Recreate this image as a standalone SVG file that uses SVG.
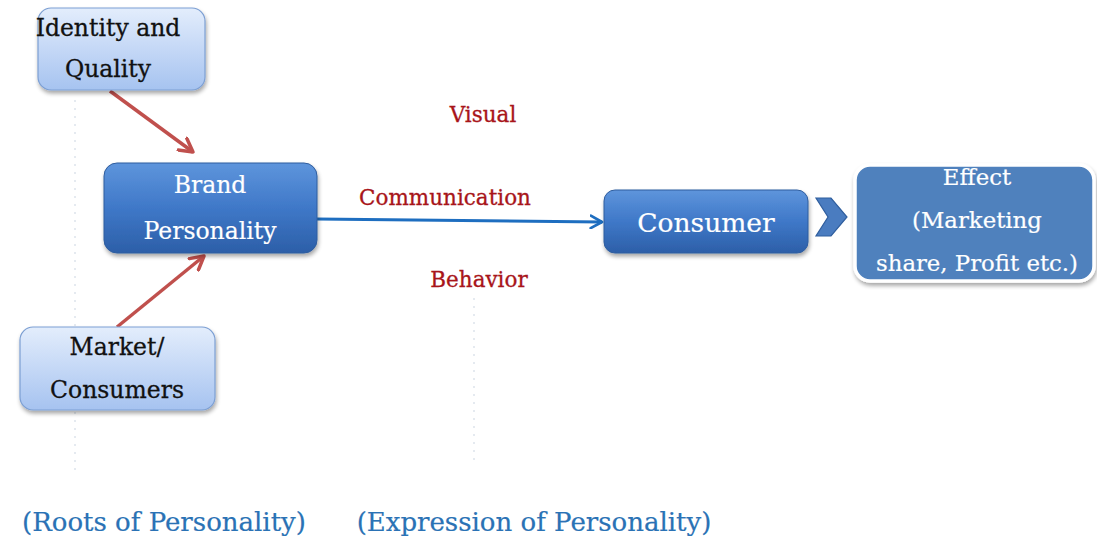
<svg xmlns="http://www.w3.org/2000/svg" width="1097" height="542" viewBox="0 0 1097 542">
  <style>
    text { font-family: "DejaVu Serif", "Liberation Serif", serif; text-anchor: middle; }
    .dark { fill: #111111; stroke: #111111; stroke-width: 0.3; font-size: 23.5px; }
    .light { fill: #ffffff; stroke: #ffffff; stroke-width: 0.2; font-size: 23.5px; }
    .label { fill: #a8151a; stroke: #a8151a; stroke-width: 0.3; font-size: 21.5px; }
    .caption { fill: #2a72b5; stroke: #2a72b5; stroke-width: 0.2; font-size: 26px; }
    .guide { stroke: #d4dde6; stroke-width: 1.2; stroke-dasharray: 2 6; }
  </style>
  <defs>
    <linearGradient id="paleBlue" x1="0" y1="0" x2="0" y2="1">
      <stop offset="0" stop-color="#e3edfc"/>
      <stop offset="1" stop-color="#a6c3f0"/>
    </linearGradient>
    <linearGradient id="deepBlue" x1="0" y1="0" x2="0" y2="1">
      <stop offset="0" stop-color="#5e95dc"/>
      <stop offset="0.5" stop-color="#3f78c8"/>
      <stop offset="1" stop-color="#2c5fa8"/>
    </linearGradient>
    <filter id="shadow" x="-10%" y="-10%" width="125%" height="135%">
      <feGaussianBlur in="SourceAlpha" stdDeviation="2"/>
      <feOffset dx="1" dy="3"/>
      <feComponentTransfer><feFuncA type="linear" slope="0.35"/></feComponentTransfer>
      <feMerge><feMergeNode/><feMergeNode in="SourceGraphic"/></feMerge>
    </filter>
    <marker id="redHead" viewBox="0 0 12 12" refX="10" refY="6" markerWidth="5" markerHeight="5" orient="auto" markerUnits="strokeWidth">
      <path d="M1,1 L10,6 L1,11" fill="none" stroke="#c0504d" stroke-width="2.4" stroke-linecap="round" stroke-linejoin="round"/>
    </marker>
    <marker id="blueHead" viewBox="0 0 12 12" refX="10" refY="6" markerWidth="5" markerHeight="5" orient="auto" markerUnits="strokeWidth">
      <path d="M1,1 L10,6 L1,11" fill="none" stroke="#1e6ec0" stroke-width="2.2" stroke-linecap="round" stroke-linejoin="round"/>
    </marker>
  </defs>

  <rect width="1097" height="542" fill="#ffffff"/>

  <!-- faint column guides -->
  <line class="guide" x1="75" y1="100" x2="75" y2="470"/>
  <line class="guide" x1="474" y1="298" x2="474" y2="463"/>

  <g id="connectors">
    <line x1="110" y1="91" x2="193" y2="152" stroke="#c0504d" stroke-width="3.5" marker-end="url(#redHead)"/>
    <line x1="117" y1="327" x2="204" y2="256" stroke="#c0504d" stroke-width="3.5" marker-end="url(#redHead)"/>
    <line x1="317" y1="219" x2="602" y2="222" stroke="#1e6ec0" stroke-width="3" marker-end="url(#blueHead)"/>
    <g id="chevron">
      <path d="M816,198 L831,198 L847,217 L831,236 L816,236 L828,217 Z" fill="#4a7cc0" stroke="#2f5e9e" stroke-width="1.2"/>
    </g>
  </g>

  <g id="node-identity">
    <rect x="38" y="8" width="167" height="82" rx="13" fill="url(#paleBlue)" stroke="#7c9fd3" stroke-width="1.2" filter="url(#shadow)"/>
    <text class="dark" x="108" y="36">Identity and</text>
    <text class="dark" x="108" y="77">Quality</text>
  </g>

  <g id="node-brand">
    <rect x="104" y="163" width="213" height="90" rx="13" fill="url(#deepBlue)" stroke="#2f5d9e" stroke-width="1" filter="url(#shadow)"/>
    <text class="light" x="210" y="193">Brand</text>
    <text class="light" x="210" y="239">Personality</text>
  </g>

  <g id="node-market">
    <rect x="20" y="327" width="195" height="83" rx="13" fill="url(#paleBlue)" stroke="#7c9fd3" stroke-width="1.2" filter="url(#shadow)"/>
    <text class="dark" x="117" y="355">Market/</text>
    <text class="dark" x="117" y="398">Consumers</text>
  </g>

  <g id="node-consumer">
    <rect x="604" y="190" width="204" height="63" rx="11" fill="url(#deepBlue)" stroke="#2f5d9e" stroke-width="1" filter="url(#shadow)"/>
    <text class="light" x="706" y="232" style="font-size:26.5px">Consumer</text>
  </g>

  <g id="node-effect">
    <rect x="855" y="165" width="239" height="116" rx="15" fill="#4f81bd" stroke="#ffffff" stroke-width="3.5" filter="url(#shadow)"/>
    <text class="light" x="977" y="185" style="font-size:22.8px">Effect</text>
    <text class="light" x="977" y="228" style="font-size:22.8px">(Marketing</text>
    <text class="light" x="977" y="271" style="font-size:22.8px">share, Profit etc.)</text>
  </g>

  <g id="labels">
    <text class="label" x="483" y="122">Visual</text>
    <text class="label" x="445" y="205">Communication</text>
    <text class="label" x="479" y="287">Behavior</text>
  </g>

  <g id="captions">
    <text class="caption" x="164" y="531">(Roots of Personality)</text>
    <text class="caption" x="534" y="531">(Expression of Personality)</text>
  </g>
</svg>
